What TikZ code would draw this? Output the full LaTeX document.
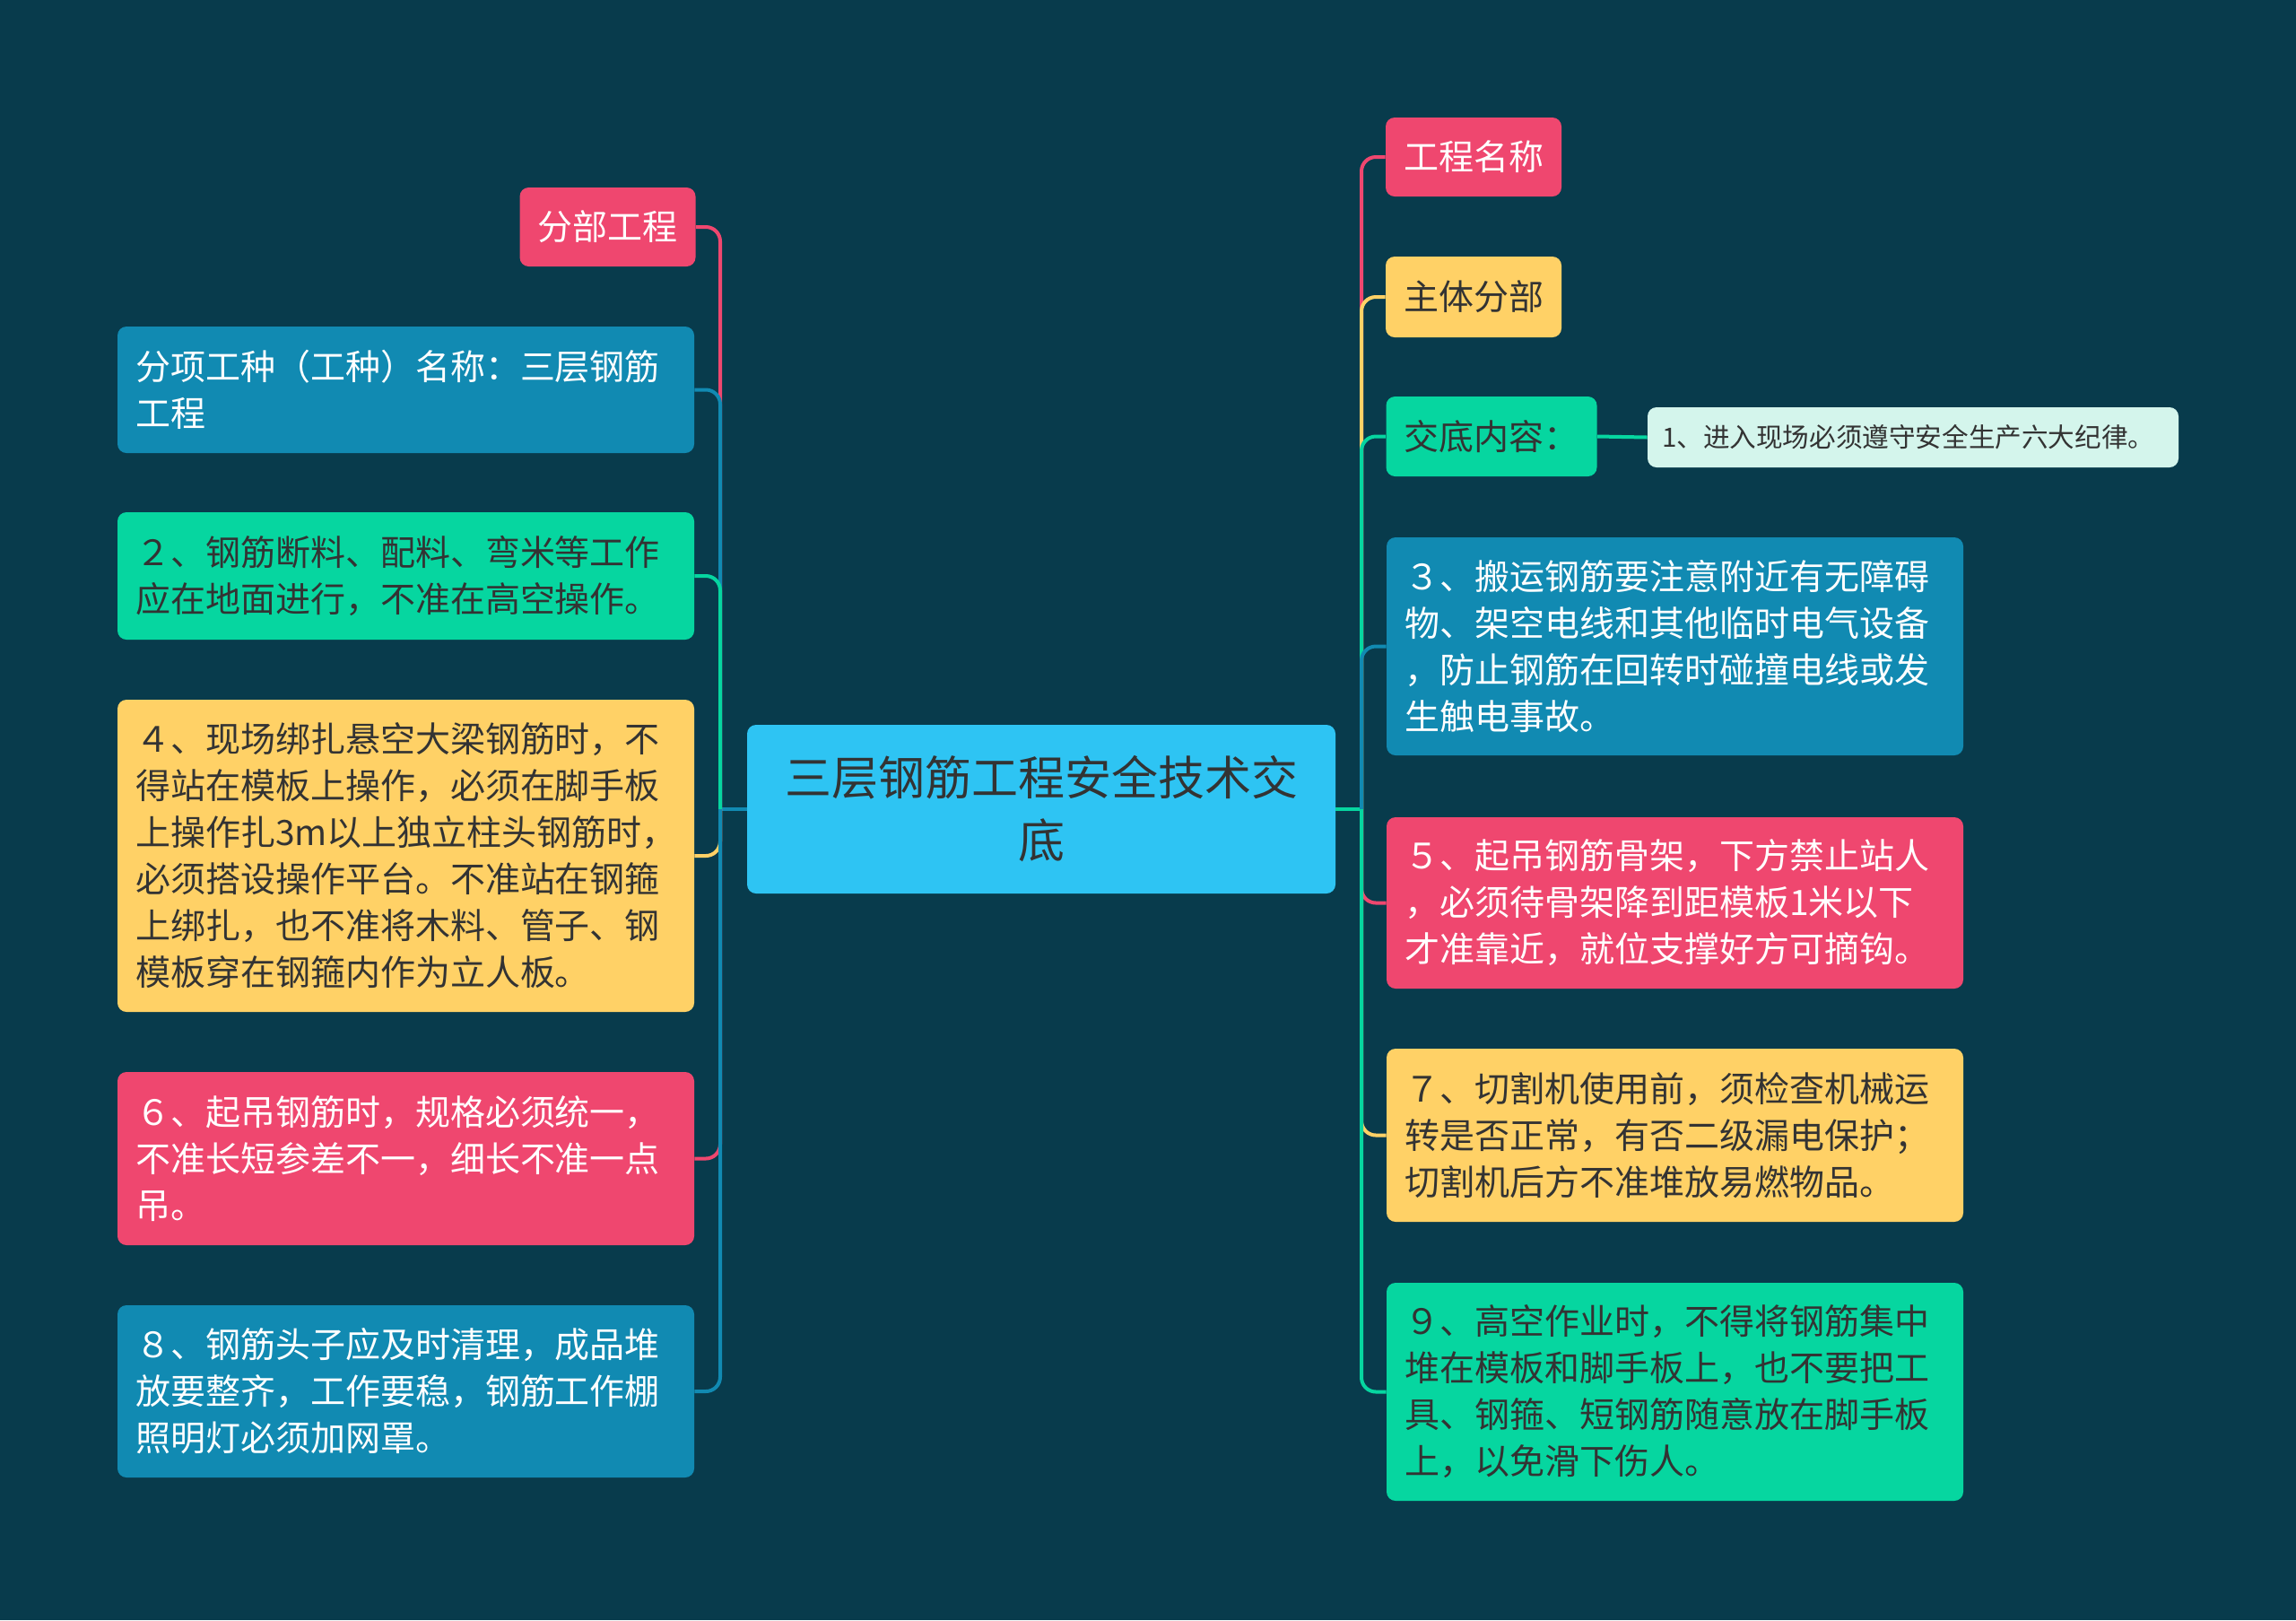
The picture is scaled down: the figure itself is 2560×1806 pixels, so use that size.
\documentclass[tikz,border=0pt]{standalone}
\usepackage{fontspec}
\setmainfont{Noto Sans CJK SC}
\definecolor{bgc}{HTML}{083B4C}
\definecolor{pinkc}{HTML}{EF476F}
\definecolor{bluec}{HTML}{118AB2}
\definecolor{greenc}{HTML}{06D6A0}
\definecolor{yellowc}{HTML}{FFD166}
\definecolor{skyc}{HTML}{2EC4F3}
\definecolor{mintc}{HTML}{D4F5EC}
\definecolor{inkc}{HTML}{333333}

\begin{document}
\begin{tikzpicture}[x=0.5pt,y=-0.5pt,
  card/.style={rounded corners=5pt, inner xsep=10pt, inner ysep=0pt, font=\fontsize{19.5pt}{26pt}\selectfont},
  wide/.style={card, text width=301.5pt, align=left},
  tag/.style={card, minimum height=44pt, align=center},
  pinkbox/.style={fill=pinkc, text=white},
  bluebox/.style={fill=bluec, text=white},
  greenbox/.style={fill=greenc, text=inkc},
  yellowbox/.style={fill=yellowc, text=inkc},
  link/.style={line width=2pt, rounded corners=8pt}]
\useasboundingbox (0,0) rectangle (2560,1806);
\fill[bgc] (0,0) rectangle (2560,1806);

\node[card, fill=skyc, text=inkc, minimum width=328pt, minimum height=94pt, align=center,
  font=\fontsize{26pt}{35pt}\selectfont] (ctr) at (1161,902) {三层钢筋工程安全技术交\\底};
\coordinate (lj) at (803,902);
\coordinate (rj) at (1518,902);

\node[tag, pinkbox, minimum width=96.5pt] (fbgc) at (677.5,253) {分部工程};
\node[wide, bluebox, minimum height=70.5pt] (fxgz) at (452.5,434.5) {分项工种（工种）名称：三层钢筋\\工程};
\node[wide, greenbox, minimum height=71pt] (l2) at (452.5,642) {２、钢筋断料、配料、弯米等工作\\应在地面进行，不准在高空操作。};
\node[wide, yellowbox, minimum height=174pt] (l4) at (452.5,954) {４、现场绑扎悬空大梁钢筋时，不\\得站在模板上操作，必须在脚手板\\上操作扎3m以上独立柱头钢筋时，\\必须搭设操作平台。不准站在钢箍\\上绑扎，也不准将木料、管子、钢\\模板穿在钢箍内作为立人板。};
\node[wide, pinkbox, minimum height=96.5pt] (l6) at (452.5,1291.5) {６、起吊钢筋时，规格必须统一，\\不准长短参差不一，细长不准一点\\吊。};
\node[wide, bluebox, minimum height=96pt] (l8) at (452.5,1551) {８、钢筋头子应及时清理，成品堆\\放要整齐，工作要稳，钢筋工作棚\\照明灯必须加网罩。};

\node[tag, pinkbox, minimum width=97pt] (gcmc) at (1643,175) {工程名称};
\node[tag, yellowbox, minimum width=97pt, minimum height=45pt] (ztfb) at (1643,331) {主体分部};
\node[tag, greenbox, minimum width=117pt, minimum height=44.5pt] (jdnr) at (1663,486.5) {交底内容：};
\node[card, fill=mintc, text=inkc, inner xsep=8pt, text width=280pt, minimum height=33.5pt, align=left,
  font=\fontsize{14.8pt}{18pt}\selectfont] (r1) at (2133,487.5) {1、进入现场必须遵守安全生产六大纪律。};
\node[wide, bluebox, minimum height=121.5pt] (r3) at (1867.5,720.5) {３、搬运钢筋要注意附近有无障碍\\物、架空电线和其他临时电气设备\\，防止钢筋在回转时碰撞电线或发\\生触电事故。};
\node[wide, pinkbox, minimum height=95.5pt] (r5) at (1867.5,1006.5) {５、起吊钢筋骨架，下方禁止站人\\，必须待骨架降到距模板1米以下\\才准靠近，就位支撑好方可摘钩。};
\node[wide, yellowbox, minimum height=96.5pt] (r7) at (1867.5,1265.5) {７、切割机使用前，须检查机械运\\转是否正常，有否二级漏电保护；\\切割机后方不准堆放易燃物品。};
\node[wide, greenbox, minimum height=121.5pt] (r9) at (1867.5,1551.5) {９、高空作业时，不得将钢筋集中\\堆在模板和脚手板上，也不要把工\\具、钢箍、短钢筋随意放在脚手板\\上，以免滑下伤人。};

\draw[link, bluec] (ctr.west) -- (lj);
\draw[link, pinkc] (lj) |- (fbgc.east);
\draw[link, bluec] (lj) |- (fxgz.east);
\draw[link, greenc] (lj) |- (l2.east);
\draw[link, yellowc] (lj) |- (l4.east);
\draw[link, pinkc] (lj) |- (l6.east);
\draw[link, bluec] (lj) |- (l8.east);

\draw[link, greenc] (ctr.east) -- (rj);
\draw[link, pinkc] (rj) |- (gcmc.west);
\draw[link, yellowc] (rj) |- (ztfb.west);
\draw[link, greenc] (rj) |- (jdnr.west);
\draw[link, bluec] (rj) |- (r3.west);
\draw[link, pinkc] (rj) |- (r5.west);
\draw[link, yellowc] (rj) |- (r7.west);
\draw[link, greenc] (rj) |- (r9.west);
\draw[link, greenc] (jdnr.east) -- (r1.west);
\end{tikzpicture}
\end{document}
